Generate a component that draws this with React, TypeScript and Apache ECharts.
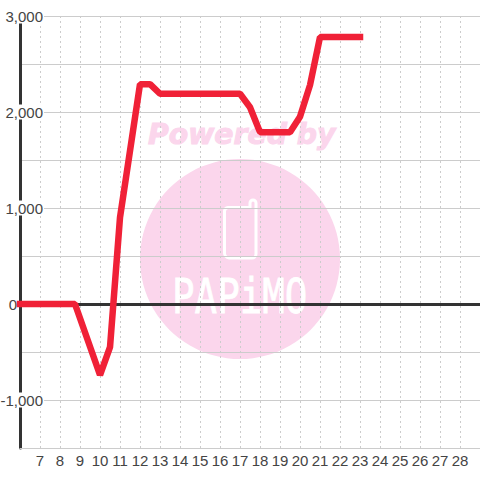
import React, { useEffect, useRef } from "react";
import * as echarts from "echarts";

const hours = [6, 8.75, 10, 10.5, 11, 12, 12.5, 13, 17, 17.5, 18, 19.5, 20, 20.5, 21, 23];
const values = [0, 0, -740, -450, 900, 2290, 2290, 2190, 2190, 2050, 1790, 1790, 1950, 2280, 2780, 2780];
const xMin = 6;
const xMax = 29;
const yMin = -1500;
const yMax = 3000;
const yLabelStep = 1000;
const watermarkTop = "Powered by";
const watermarkLogo = "PAPiMO";

const phonePath =
  "M228 207.5 L250 207.5 L250 203 A3 3 0 0 1 256 203 L256 254 A4 4 0 0 1 252 258 L229 258 A5 5 0 0 1 224.5 253 L224.5 211 A4 4 0 0 1 228 207.5 Z";
echarts.graphic.registerShape("phoneIcon", echarts.graphic.extendPath(phonePath, {}));

const PINK = "#fbd6ec";
const FONT = "Liberation Sans";

export default function App() {
  const ref = useRef<HTMLDivElement>(null);
  useEffect(() => {
    const chart = echarts.init(ref.current!, null, { renderer: "svg" });
    chart.setOption({
      animation: false,
      backgroundColor: "#fff",
      textStyle: { fontFamily: FONT },
      grid: { left: 20, right: 0, top: 16, bottom: 32, containLabel: false, outerBoundsMode: "none" },
      graphic: {
        elements: [
          { type: "circle", z: -10, shape: { cx: 240, cy: 259, r: 100 }, style: { fill: PINK } },
          {
            type: "text", z: -10, x: 148, y: 120,
            style: {
              text: watermarkTop, fill: PINK, stroke: PINK, lineWidth: 1, fontFamily: "DejaVu Sans", fontWeight: "bold",
              fontStyle: "italic", fontSize: 28.3,
            },
          },
          { type: "phoneIcon", z: -9, style: { fill: "none", stroke: "#fff", lineWidth: 3 } },
          {
            type: "text", z: -9, x: 172, y: 272, scaleY: 1.28,
            style: { text: watermarkLogo, fill: "#fff", stroke: "#fff", lineWidth: 0.6, fontFamily: "DejaVu Sans Mono", fontSize: 37.5 },
          },
        ],
      },
      xAxis: [
        {
          type: "value", min: xMin, max: xMax, interval: 1, position: "bottom",
          axisLine: { onZero: false, show: true, lineStyle: { color: "#ccc", width: 1 } },
          axisTick: { show: false },
          splitLine: { show: true, lineStyle: { color: "#ccc", type: [2, 3], width: 1 } },
          axisLabel: {
            color: "#444", fontSize: 15, margin: 5, fontFamily: FONT,
            formatter: (v: number) => (v === xMin || v === xMax ? "" : String(v)),
          },
        },
        {
          type: "value", min: xMin, max: xMax, gridIndex: 0,
          axisLine: { show: true, onZero: true, onZeroAxisIndex: 0, lineStyle: { color: "#333", width: 3 } },
          axisTick: { show: false }, axisLabel: { show: false }, splitLine: { show: false },
        },
      ],
      yAxis: {
        type: "value", min: yMin, max: yMax, interval: 500,
        axisLine: { show: true, onZero: false, lineStyle: { color: "#333", width: 3 } },
        axisTick: { show: false },
        splitLine: { show: true, lineStyle: { color: "#ccc", width: 1 } },
        axisLabel: {
          margin: -24, align: "right", color: "#444", fontSize: 15, fontFamily: FONT,
          formatter: (v: number) => {
            if (v === 0) return "{z|0}";
            if (v % yLabelStep !== 0 || v === yMin) return "";
            return "{n|" + v.toLocaleString("en-US") + "}";
          },
          rich: {
            z: { padding: [0, 27, 0, 0], fontSize: 15, color: "#444", fontFamily: FONT },
            n: { backgroundColor: "#fff", fontSize: 15, color: "#444", fontFamily: FONT, padding: [0, 1, 0, 0] },
          },
        },
      },
      series: [
        {
          type: "line", xAxisIndex: 0, z: 5, showSymbol: false, symbol: "none",
          data: hours.map((h, i) => [h, values[i]]),
          clip: false,
          lineStyle: { color: "#f02137", width: 6.5, cap: "square", join: "bevel" },
        },
      ],
    });
    return () => chart.dispose();
  }, []);
  return <div ref={ref} style={{ position: "absolute", left: 0, top: 0, width: 480, height: 480 }} />;
}
